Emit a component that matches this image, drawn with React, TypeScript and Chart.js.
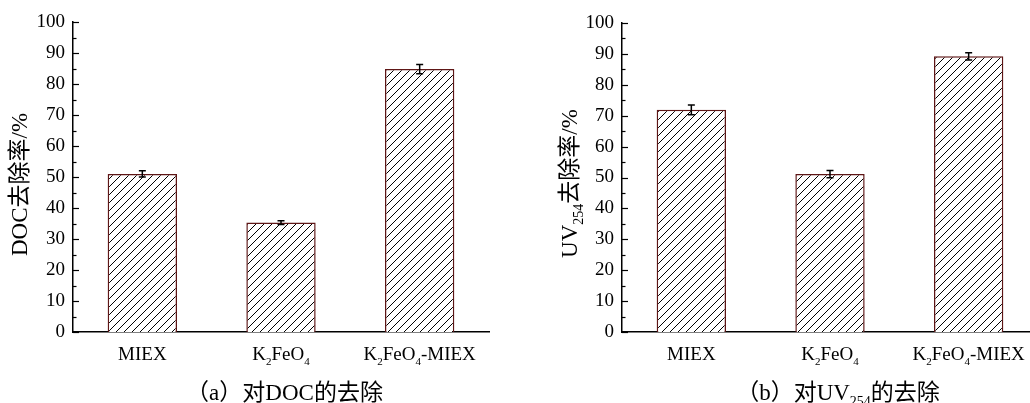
import React, { useEffect, useRef } from "react";
import { Chart, registerables } from "chart.js";
Chart.register(...registerables);

const categories = ["MIEX", "K_2FeO_4", "K_2FeO_4-MIEX"];
const docRemoval = [51.0, 35.3, 84.8];
const docError = [1.0, 0.6, 1.5];
const uvRemoval = [71.9, 51.1, 89.2];
const uvError = [1.6, 1.2, 1.2];
const yTitleA = "DOC去除率/%";
const yTitleB = "UV_{254}去除率/%";
const captionA = "（a）对DOC的去除";
const captionB = "（b）对UV_{254}的去除";

const FAMILY = "'Liberation Serif', 'Noto Sans CJK SC', serif";

type Seg = { text: string; sub: boolean };
function parseRich(s: string): Seg[] {
  const segs: Seg[] = [];
  let buf = "";
  let i = 0;
  while (i < s.length) {
    if (s[i] === "_") {
      if (buf) segs.push({ text: buf, sub: false });
      buf = "";
      if (s[i + 1] === "{") {
        const end = s.indexOf("}", i);
        segs.push({ text: s.slice(i + 2, end), sub: true });
        i = end + 1;
      } else {
        segs.push({ text: s[i + 1], sub: true });
        i += 2;
      }
    } else {
      buf += s[i];
      i++;
    }
  }
  if (buf) segs.push({ text: buf, sub: false });
  return segs;
}

function drawRich(ctx: CanvasRenderingContext2D, s: string, x: number, y: number, size: number) {
  const segs = parseRich(s);
  const subSize = Math.round(size * 0.6);
  let total = 0;
  const widths = segs.map((g) => {
    ctx.font = `${g.sub ? subSize : size}px ${FAMILY}`;
    const w = ctx.measureText(g.text).width;
    total += w;
    return w;
  });
  let cx = x - total / 2;
  ctx.textAlign = "left";
  ctx.textBaseline = "alphabetic";
  segs.forEach((g, k) => {
    ctx.font = `${g.sub ? subSize : size}px ${FAMILY}`;
    ctx.fillText(g.text, cx, g.sub ? y + size * 0.28 : y);
    cx += widths[k];
  });
}

function makeHatch(): CanvasPattern | string {
  const c = document.createElement("canvas");
  c.width = 8;
  c.height = 8;
  const g = c.getContext("2d")!;
  g.fillStyle = "#fff";
  g.fillRect(0, 0, 8, 8);
  g.strokeStyle = "#000";
  g.lineWidth = 1;
  g.beginPath();
  g.moveTo(0, 8);
  g.lineTo(8, 0);
  g.moveTo(-1, 1);
  g.lineTo(1, -1);
  g.moveTo(7, 9);
  g.lineTo(9, 7);
  g.stroke();
  const p = document.createElement("canvas").getContext("2d")!.createPattern(c, "repeat");
  return p || "#fff";
}

function buildChart(
  canvas: HTMLCanvasElement,
  values: number[],
  errors: number[],
  yTitle: string,
  caption: string,
  yWidth: number,
  padRight: number,
  padTop: number,
  titleX: number,
  titleY: number,
  captionX: number
) {
  const deco = {
    id: "deco",
    afterDatasetsDraw(chart: any) {
      const ctx = chart.ctx as CanvasRenderingContext2D;
      const ys = chart.scales.y;
      const xs = chart.scales.x;
      const area = chart.chartArea;
      ctx.save();
      // error bars
      const meta = chart.getDatasetMeta(0);
      ctx.strokeStyle = "#000";
      ctx.lineWidth = 1.5;
      meta.data.forEach((bar: any, i: number) => {
        const top = ys.getPixelForValue(values[i] + errors[i]);
        const bot = ys.getPixelForValue(values[i] - errors[i]);
        ctx.beginPath();
        ctx.moveTo(bar.x, top);
        ctx.lineTo(bar.x, bot);
        ctx.moveTo(bar.x - 3.5, top);
        ctx.lineTo(bar.x + 3.5, top);
        ctx.moveTo(bar.x - 3.5, bot);
        ctx.lineTo(bar.x + 3.5, bot);
        ctx.stroke();
      });
      // inward y ticks
      ctx.lineWidth = 1.2;
      for (let v = 0; v <= 100; v += 5) {
        const py = Math.round(ys.getPixelForValue(v)) + 0.5;
        const len = v % 10 === 0 ? 6 : 3.5;
        ctx.beginPath();
        ctx.moveTo(area.left, py);
        ctx.lineTo(area.left + len, py);
        ctx.stroke();
      }
      // x labels
      ctx.fillStyle = "#000";
      categories.forEach((c, i) => {
        drawRich(ctx, c, xs.getPixelForValue(i), area.bottom + 28, 19);
      });
      // y title
      ctx.save();
      ctx.translate(titleX, titleY);
      ctx.rotate(-Math.PI / 2);
      drawRich(ctx, yTitle, 0, 0, 23);
      ctx.restore();
      // caption
      drawRich(ctx, caption, captionX, 400, 23);
      ctx.restore();
    },
  };

  return new Chart(canvas, {
    type: "bar",
    data: {
      labels: categories,
      datasets: [
        {
          data: values,
          backgroundColor: makeHatch() as any,
          borderColor: "#5e1616",
          borderWidth: 1.5,
          barPercentage: 0.5,
          categoryPercentage: 1,
        },
      ],
    },
    options: {
      responsive: false,
      animation: false,
      devicePixelRatio: 1,
      layout: { padding: { top: padTop, right: padRight, left: 0, bottom: 0 } },
      plugins: { legend: { display: false }, tooltip: { enabled: false } },
      scales: {
        x: {
          grid: { display: false, drawTicks: false },
          border: { display: true, color: "#000", width: 1.5 },
          ticks: { display: false },
          afterFit: (s: any) => {
            s.height = 71;
          },
        },
        y: {
          min: 0,
          max: 100,
          grid: { display: false, drawTicks: false },
          border: { display: true, color: "#000", width: 1.5 },
          ticks: {
            stepSize: 10,
            padding: 8,
            color: "#000",
            font: { size: 19, family: FAMILY },
          },
          afterFit: (s: any) => {
            s.width = yWidth;
          },
        },
      },
    },
    plugins: [deco],
  });
}

export default function App() {
  const refA = useRef<HTMLCanvasElement>(null);
  const refB = useRef<HTMLCanvasElement>(null);
  useEffect(() => {
    const a = buildChart(refA.current!, docRemoval, docError, yTitleA, captionA, 73, 21, 22, 27, 184.5, 284.5);
    const b = buildChart(refB.current!, uvRemoval, uvError, yTitleB, captionB, 92, 12, 23, 47, 183.5, 308);
    return () => {
      a.destroy();
      b.destroy();
    };
  }, []);
  return (
    <div style={{ position: "absolute", left: 0, top: 0, width: 1030, height: 403, overflow: "hidden", background: "#fff" }}>
      <canvas ref={refA} width={510} height={403} style={{ position: "absolute", left: 0, top: 0, width: 510, height: 403 }} />
      <canvas ref={refB} width={520} height={403} style={{ position: "absolute", left: 530, top: 0, width: 520, height: 403 }} />
    </div>
  );
}
